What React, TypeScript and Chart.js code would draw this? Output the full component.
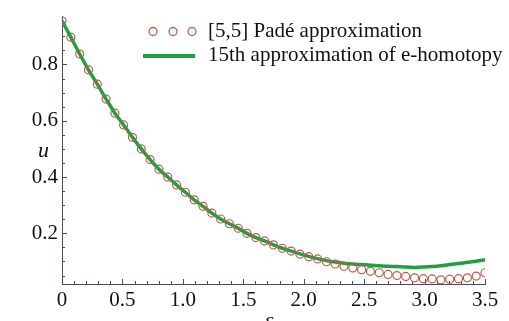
import { useEffect, useRef } from 'react';
import { Chart, registerables } from 'chart.js';

Chart.register(...registerables);

const epsValues = [
  0, 0.073, 0.146, 0.219, 0.292, 0.365, 0.438, 0.51, 0.583, 0.656, 0.729, 0.802, 0.875, 0.948,
  1.021, 1.094, 1.167, 1.24, 1.313, 1.385, 1.458, 1.531, 1.604, 1.677, 1.75, 1.823, 1.896, 1.969,
  2.042, 2.115, 2.188, 2.26, 2.333, 2.406, 2.479, 2.552, 2.625, 2.698, 2.771, 2.844, 2.917, 2.99,
  3.063, 3.135, 3.208, 3.281, 3.354, 3.427, 3.5,
];

const padeValues = [
  0.955, 0.897, 0.837, 0.781, 0.73, 0.677, 0.627, 0.585, 0.541, 0.5, 0.462, 0.428, 0.4, 0.372,
  0.346, 0.319, 0.296, 0.272, 0.251, 0.234, 0.218, 0.2, 0.185, 0.173, 0.159, 0.147, 0.137, 0.126,
  0.117, 0.109, 0.099, 0.091, 0.083, 0.077, 0.071, 0.065, 0.06, 0.054, 0.05, 0.047, 0.042, 0.039,
  0.038, 0.035, 0.037, 0.039, 0.042, 0.048, 0.06,
];

const homotopyValues = [
  0.955, 0.897, 0.837, 0.781, 0.73, 0.677, 0.627, 0.585, 0.541, 0.5, 0.462, 0.428, 0.4, 0.372,
  0.346, 0.319, 0.296, 0.272, 0.251, 0.234, 0.218, 0.2, 0.185, 0.173, 0.159, 0.147, 0.137, 0.127,
  0.118, 0.11, 0.103, 0.098, 0.094, 0.091, 0.089, 0.087, 0.085, 0.083, 0.082, 0.08, 0.079, 0.08,
  0.082, 0.085, 0.089, 0.093, 0.097, 0.101, 0.106,
];

const xTickValues = [0, 0.5, 1.0, 1.5, 2.0, 2.5, 3.0, 3.5];
const yTickValues = [0.2, 0.4, 0.6, 0.8];

const padeLabel = '[5,5] Padé approximation';
const homotopyLabel = '15th approximation of e-homotopy';

const FONT = "'Liberation Serif', 'Times New Roman', serif";
const AXIS_COLOR = '#4a4d5e';
const CIRCLE_COLOR = '#bb5f48';
const GREEN = '#1fa044';

const decorPlugin = {
  id: 'decor',
  beforeDatasetsDraw(chart: any) {
    const { ctx, chartArea, scales } = chart;
    const x = scales.x;
    const y = scales.y;
    ctx.save();
    ctx.strokeStyle = AXIS_COLOR;
    ctx.lineWidth = 1;
    for (let i = 0; i <= 35; i++) {
      const v = i / 10;
      const px = Math.round(x.getPixelForValue(v)) + 0.5;
      const len = i % 5 === 0 ? 5 : 3;
      ctx.beginPath();
      ctx.moveTo(px, chartArea.bottom);
      ctx.lineTo(px, chartArea.bottom - len);
      ctx.stroke();
    }
    for (let i = 1; i <= 19; i++) {
      const v = i * 0.05;
      if (v < y.min || v > y.max) continue;
      const py = Math.round(y.getPixelForValue(v)) + 0.5;
      const len = i % 4 === 0 ? 5 : 3;
      ctx.beginPath();
      ctx.moveTo(chartArea.left, py);
      ctx.lineTo(chartArea.left + len, py);
      ctx.stroke();
    }
    ctx.restore();
  },
  afterDraw(chart: any) {
    const { ctx } = chart;
    ctx.save();
    ctx.fillStyle = '#111';
    ctx.font = `italic 22px ${FONT}`;
    ctx.textAlign = 'center';
    ctx.textBaseline = 'alphabetic';
    ctx.fillText('u', 43.5, 157);
    ctx.fillText('ε', 269, 327);
    ctx.strokeStyle = CIRCLE_COLOR;
    ctx.lineWidth = 1.3;
    [153, 173, 192].forEach((cx) => {
      ctx.beginPath();
      ctx.arc(cx, 31.5, 4, 0, Math.PI * 2);
      ctx.stroke();
    });
    ctx.strokeStyle = GREEN;
    ctx.lineWidth = 4;
    ctx.beginPath();
    ctx.moveTo(143, 56);
    ctx.lineTo(195, 56);
    ctx.stroke();
    ctx.fillStyle = '#111';
    ctx.font = `21px ${FONT}`;
    ctx.textAlign = 'left';
    ctx.textBaseline = 'middle';
    ctx.fillText(padeLabel, 208, 31);
    ctx.fillText(homotopyLabel, 208, 55);
    ctx.restore();
  },
};

export default function App() {
  const canvasRef = useRef<HTMLCanvasElement | null>(null);

  useEffect(() => {
    const canvas = canvasRef.current;
    if (!canvas) return;
    const chart = new Chart(canvas, {
      type: 'line',
      data: {
        datasets: [
          {
            label: padeLabel,
            data: epsValues.map((e, i) => ({ x: e, y: padeValues[i] })),
            showLine: false,
            pointStyle: 'circle',
            pointRadius: 4,
            pointBorderWidth: 1.2,
            pointBorderColor: CIRCLE_COLOR,
            pointBackgroundColor: 'rgba(0,0,0,0)',
            borderColor: CIRCLE_COLOR,
            order: 0,
          },
          {
            label: homotopyLabel,
            data: epsValues.map((e, i) => ({ x: e, y: homotopyValues[i] })),
            borderColor: GREEN,
            borderWidth: 3.5,
            pointRadius: 0,
            tension: 0.3,
            fill: false,
            order: 1,
          },
        ],
      },
      options: {
        responsive: false,
        animation: false,
        layout: { padding: { left: 0, top: 13, right: 24, bottom: 0 } },
        plugins: {
          legend: { display: false },
          tooltip: { enabled: false },
        },
        scales: {
          x: {
            type: 'linear',
            min: 0,
            max: 3.5,
            grid: { display: false, drawTicks: false },
            border: { display: true, color: AXIS_COLOR, width: 1 },
            afterBuildTicks: (scale: any) => {
              scale.ticks = xTickValues.map((v) => ({ value: v }));
            },
            afterFit: (scale: any) => {
              scale.height = 37;
            },
            ticks: {
              color: '#111',
              font: { family: FONT, size: 21 },
              padding: 4,
              maxRotation: 0,
              autoSkip: false,
              callback: (v: any) => (Number(v) === 0 ? '0' : Number(v).toFixed(1)),
            },
          },
          y: {
            type: 'linear',
            min: 0.02,
            max: 0.97,
            grid: { display: false, drawTicks: false },
            border: { display: true, color: AXIS_COLOR, width: 1 },
            afterBuildTicks: (scale: any) => {
              scale.ticks = yTickValues.map((v) => ({ value: v }));
            },
            afterFit: (scale: any) => {
              scale.width = 62;
            },
            ticks: {
              color: '#111',
              font: { family: FONT, size: 21 },
              padding: 4,
              autoSkip: false,
              callback: (v: any) => Number(v).toFixed(1),
            },
          },
        },
      },
      plugins: [decorPlugin],
    });
    return () => chart.destroy();
  }, []);

  return (
    <div style={{ position: 'absolute', left: 0, top: 0, width: 509, height: 321, background: '#fff' }}>
      <canvas ref={canvasRef} width={509} height={321} />
    </div>
  );
}
